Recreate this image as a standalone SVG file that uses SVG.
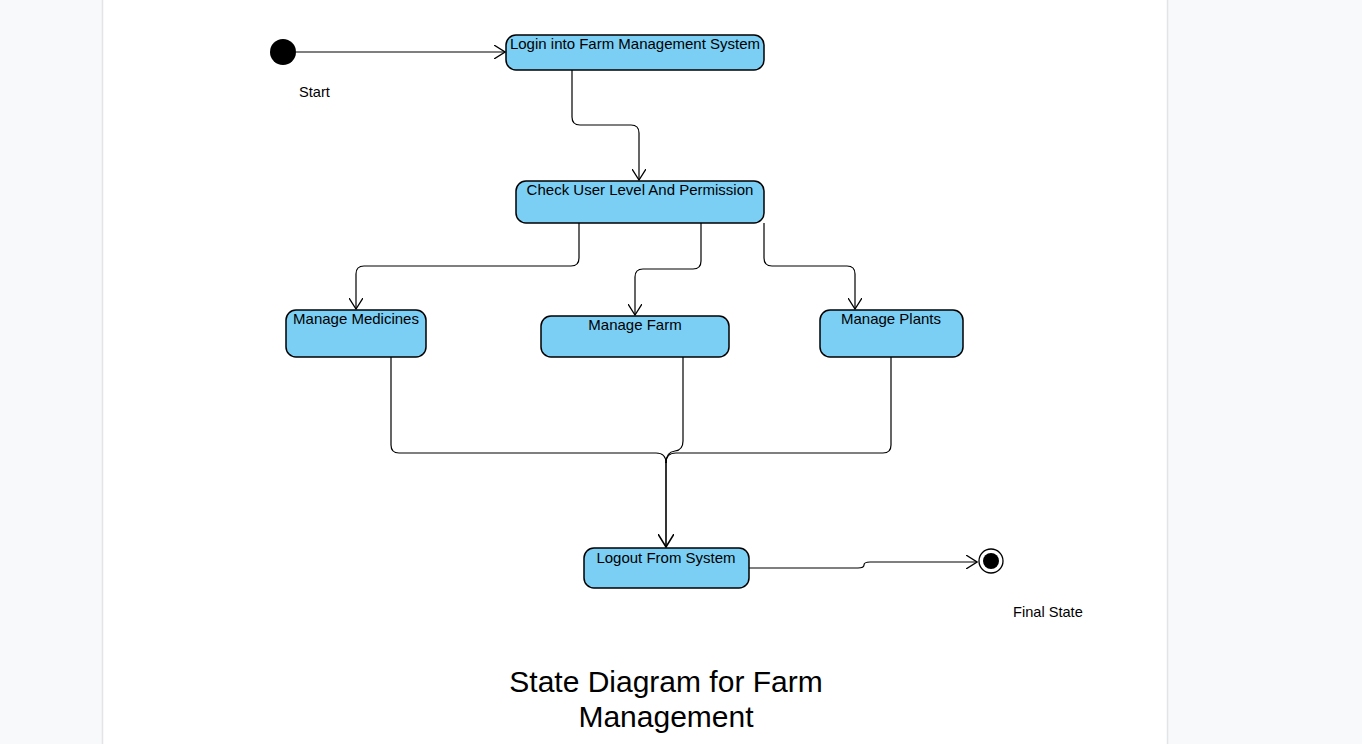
<svg xmlns="http://www.w3.org/2000/svg" width="1362" height="744" viewBox="0 0 1362 744">
<defs>
<style>
.node{fill:#7bcff4;stroke:#000;stroke-width:1.5}
.lbl{font-family:"Liberation Sans",Arial,sans-serif;font-size:15px;fill:#000;text-anchor:middle}
.cap{font-family:"Liberation Sans",Arial,sans-serif;font-size:14.6px;fill:#000}
.edge{fill:none;stroke:#000;stroke-width:1.2}
.title{font-family:"Liberation Sans",Arial,sans-serif;font-size:30px;fill:#000;text-anchor:middle}
</style>
<marker id="arr" viewBox="0 0 12 14" refX="11" refY="7" markerWidth="12" markerHeight="14" markerUnits="userSpaceOnUse" orient="auto">
<path d="M0,0 L11,7 L0,14" fill="none" stroke="#000" stroke-width="1.3"/>
</marker>
<marker id="arrBig" viewBox="0 0 14 16" refX="13" refY="8" markerWidth="14" markerHeight="16" markerUnits="userSpaceOnUse" orient="auto">
<path d="M0,0 L13,8 L0,16" fill="none" stroke="#000" stroke-width="1.6"/>
</marker>
</defs>
<rect x="0" y="0" width="1362" height="744" fill="#f8f9fa"/>
<rect x="102.5" y="-2" width="1065" height="750" fill="#fff" stroke="#e3e4e6" stroke-width="1.5"/>

<g id="connectors">
<path class="edge" d="M296,52 H505" marker-end="url(#arr)"/>
<path class="edge" d="M572,70 V117 Q572,125 580,125 H631 Q639,125 639,133 V180" marker-end="url(#arr)"/>
<path class="edge" d="M579,223 V258 Q579,266 571,266 H364 Q356,266 356,274 V309" marker-end="url(#arr)"/>
<path class="edge" d="M701,223 V261 Q701,269 693,269 H643 Q635,269 635,277 V315" marker-end="url(#arr)"/>
<path class="edge" d="M764,223 V258 Q764,266 772,266 H847 Q855,266 855,274 V309" marker-end="url(#arr)"/>
<path class="edge" d="M391,357 V445 Q391,453 399,453 H656 Q666,453 666,463"/>
<path class="edge" d="M891,357 V445 Q891,453 883,453 H676 Q666,453 666,463"/>
<path class="edge" d="M683,357 V441 Q683,450 675,451 Q666,452 666,463"/>
<path class="edge" d="M666,462 V547" style="stroke-width:1.6" marker-end="url(#arrBig)"/>
<path class="edge" d="M749,568 H858 Q864,568 864,565 Q864,562 870,562 H977" marker-end="url(#arr)"/>
</g>

<g id="start">
<circle cx="283" cy="52" r="13" fill="#000"/>
<text class="cap" x="299" y="97">Start</text>
</g>

<g id="login">
<rect class="node" x="506" y="35" width="258" height="35" rx="10"/>
<text class="lbl" x="635" y="49">Login into Farm Management System</text>
</g>

<g id="check">
<rect class="node" x="516" y="181" width="248" height="42" rx="10"/>
<text class="lbl" x="640" y="195">Check User Level And Permission</text>
</g>

<g id="medicines">
<rect class="node" x="286" y="310" width="140" height="47" rx="10"/>
<text class="lbl" x="356" y="324">Manage Medicines</text>
</g>

<g id="farm">
<rect class="node" x="541" y="316" width="188" height="41" rx="10"/>
<text class="lbl" x="635" y="330">Manage Farm</text>
</g>

<g id="plants">
<rect class="node" x="820" y="310" width="143" height="47" rx="10"/>
<text class="lbl" x="891" y="324">Manage Plants</text>
</g>

<g id="logout">
<rect class="node" x="584" y="548" width="165" height="40" rx="10"/>
<text class="lbl" x="666" y="563">Logout From System</text>
</g>

<g id="final">
<circle cx="991" cy="561" r="12" fill="#fff" stroke="#000" stroke-width="1.3"/>
<circle cx="991" cy="561" r="8" fill="#000"/>
<text class="cap" x="1013" y="617">Final State</text>
</g>

<g id="title">
<text class="title" x="666" y="692">State Diagram for Farm</text>
<text class="title" x="666" y="727">Management</text>
</g>
</svg>
